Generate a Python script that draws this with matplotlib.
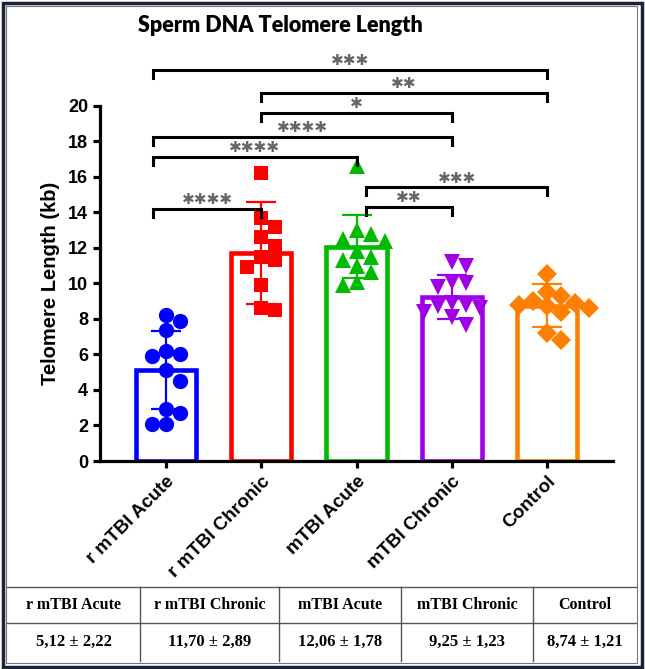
import numpy as np
import matplotlib.pyplot as plt
from matplotlib.lines import Line2D
from matplotlib.patches import Rectangle

# groups and summary values (mean, SD) from the table
groups = ['r mTBI Acute', 'r mTBI Chronic', 'mTBI Acute', 'mTBI Chronic', 'Control']
means = [5.12, 11.70, 12.06, 9.25, 8.74]
sds = [2.22, 2.89, 1.78, 1.23, 1.21]
mean_labels = ['5,12 ± 2,22', '11,70 ± 2,89', '12,06 ± 1,78', '9,25 ± 1,23', '8,74 ± 1,21']

# individual points
r_acute = [8.2, 7.9, 7.4, 6.2, 6.0, 5.9, 5.1, 4.5, 2.9, 2.7, 2.1, 2.1]
r_chronic = [16.2, 13.7, 13.2, 12.6, 12.1, 11.5, 11.3, 10.9, 9.9, 8.6, 8.5]
m_acute = [16.6, 13.0, 12.8, 12.5, 12.4, 11.8, 11.5, 11.3, 11.0, 10.65, 10.1, 9.9]
m_chronic = [11.2, 11.0, 10.1, 10.0, 9.8, 8.9, 8.8, 8.7, 8.6, 8.4, 8.1, 7.65]
control = [10.5, 9.5, 9.3, 9.0, 8.9, 8.8, 8.7, 8.6, 8.4, 7.2, 6.8]
points = [r_acute, r_chronic, m_acute, m_chronic, control]

# significance comparisons: (group a, group b, height, label)
comparisons = [
    (0, 1, 14.2, '****'),
    (0, 2, 17.1, '****'),
    (0, 3, 18.25, '****'),
    (1, 3, 19.6, '*'),
    (1, 4, 20.7, '**'),
    (0, 4, 22.0, '***'),
    (2, 3, 14.3, '**'),
    (2, 4, 15.4, '***'),
]

colors = ['#0000ff', '#ff0000', '#00bb00', '#a000e6', '#ff8000']
markers = ['o', 's', '^', 'v', 'D']
msizes = [11, 10, 11.5, 11.5, 10]

W, H = 645, 669
fig = plt.figure(figsize=(W / 100, H / 100), dpi=100)
ax = fig.add_axes([100 / W, 1 - 461 / H, 513 / W, 355.3 / H])
ax.set_xlim(-0.69, 4.69)
ax.set_ylim(0, 20)

x = np.arange(len(groups))
ax.bar(x, means, width=0.63, facecolor='none', edgecolor=colors, linewidth=3.3, zorder=2)
for i in range(len(groups)):
    ax.errorbar(x[i], means[i], yerr=sds[i], color=colors[i], capsize=11,
                elinewidth=1.6, capthick=1.6, zorder=3)


def swarm_offsets(vals, diam=14.0, step=7.0):
    # simple beeswarm in pixel space
    to_px = ax.transData
    placed = []
    offs = np.zeros(len(vals))
    for i, v in enumerate(vals):
        py = to_px.transform((0, v))[1]
        cands = [0.0]
        for k in range(1, 8):
            cands += [k * step, -k * step]
        chosen = cands[-1]
        for c in cands:
            if all((c - qx) ** 2 + (py - qy) ** 2 >= diam ** 2 for qx, qy in placed):
                chosen = c
                break
        placed.append((chosen, py))
        offs[i] = chosen
    px_per_x = to_px.transform((1, 0))[0] - to_px.transform((0, 0))[0]
    return offs / px_per_x


for i, vals in enumerate(points):
    offs = swarm_offsets(vals)
    ax.plot(x[i] + offs, vals, linestyle='none', marker=markers[i], markersize=msizes[i],
            color=colors[i], markeredgewidth=0, zorder=4, clip_on=False)

# significance brackets
drop = 0.45
for a, b, h, lab in comparisons:
    xa = a - 0.13 if a == 0 else a + (0.1 if a == 2 else 0)
    ax.plot([xa, xa, b, b], [h - drop, h, h, h - drop], color='black', lw=2.2,
            clip_on=False, zorder=5, solid_joinstyle='miter')
    ax.text((xa + b) / 2, h + 0.1, '\u2731' * len(lab), ha='center', va='bottom',
            fontsize=11, color='#666666', family='DejaVu Sans')

for s in ['top', 'right']:
    ax.spines[s].set_visible(False)
for s in ['left', 'bottom']:
    ax.spines[s].set_linewidth(2.3)
ax.set_yticks(range(0, 21, 2))
ax.set_xticks(x)
ax.tick_params(direction='out', length=5, width=2.3)
ax.set_yticklabels([str(t) for t in range(0, 21, 2)], fontsize=13, fontweight='bold',
                   family='Liberation Sans')
ax.set_xticklabels(groups, rotation=45, ha='right', rotation_mode='anchor', fontsize=13.5,
                   fontweight='bold', family='Liberation Sans')
ax.set_ylabel('Telomere Length (kb)', fontsize=14.5, fontweight='bold', family='Liberation Sans',
              labelpad=6)

fig.text(280 / W, 1 - 25 / H, 'Sperm DNA Telomere Length', ha='center', va='center',
         fontsize=15.5, fontweight='heavy', family='Lato')

# table below the chart
cols = [7, 140, 279, 401, 533, 636]
for yy in [587, 623]:
    fig.add_artist(Line2D([7 / W, 636 / W], [1 - yy / H, 1 - yy / H], color='#555555', lw=1.0))
for xx in cols[1:-1]:
    fig.add_artist(Line2D([xx / W, xx / W], [1 - 587 / H, 1 - 661 / H], color='#555555', lw=1.0))
for i in range(len(groups)):
    cx = (cols[i] + cols[i + 1]) / 2 / W
    fig.text(cx, 1 - 605 / H, groups[i], ha='center', va='center', fontsize=11.5,
             fontweight='bold', family='Liberation Serif')
    fig.text(cx, 1 - 642 / H, mean_labels[i], ha='center', va='center', fontsize=12,
             fontweight='bold', family='Liberation Serif')

# outer frame
fig.add_artist(Rectangle((6 / W, 6 / H), 631 / W, 657 / H, transform=fig.transFigure,
                         fill=False, ec='#777777', lw=0.8))
fig.add_artist(Rectangle((2.5 / W, 2.5 / H), 639 / W, 664 / H, transform=fig.transFigure,
                         fill=False, ec='#1c2238', lw=2.5))

fig.savefig('out.png', dpi=100)
